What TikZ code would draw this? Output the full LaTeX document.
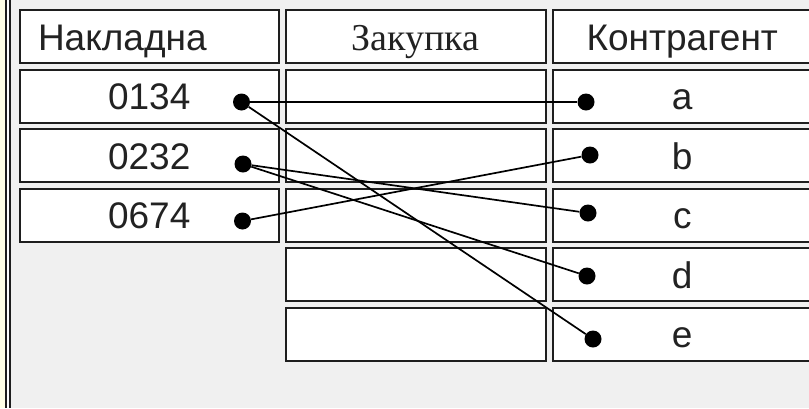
\documentclass[tikz,border=0pt]{standalone}
\usepackage{fontspec}
\setmainfont{Liberation Sans}
\newfontfamily\serifcell{Liberation Serif}
\usetikzlibrary{positioning}
\definecolor{panel}{HTML}{F0F0F0}
\definecolor{frameline}{HTML}{1E1E1E}
\definecolor{strip}{HTML}{FFFFE6}
\definecolor{ink}{HTML}{222222}

\begin{document}
\begin{tikzpicture}[
		x=1pt, y=-1pt,
		node distance=6.5pt and 7pt,
		cell/.style={draw=frameline, line width=2pt, fill=white, minimum width=259.5pt, minimum height=53pt, inner sep=0pt, outer sep=0pt, text height=27pt, text depth=0pt, text=ink, font=\fontsize{37}{40}\selectfont},
		headleft/.style={text width=222.5pt, align=left},
		serifhead/.style={font=\serifcell\fontsize{38}{40}\selectfont},
		dot/.style={circle, fill=black, inner sep=0pt, minimum size=17pt},
		link/.style={line width=1.7pt, black}
		]
	
		\useasboundingbox (0,0) rectangle (809,408);
		\clip (0,0) rectangle (809,408);
		\fill[panel] (0,0) rectangle (809,408);
		% window edge
		\fill[strip] (0,0) rectangle (5.3,408);
		\fill[white] (5.3,0) rectangle (11,408);
		\draw[frameline, line width=1.2pt] (5.9,0) -- (5.9,408);
		\draw[frameline, line width=2pt] (10,0) -- (10,408);
	
		% Накладна
		\node[cell, headleft, anchor=north west] at (19.5,10.3) (hnak) {Накладна};
		\node[cell, below = of hnak] (n0134) {0134};
		\node[cell, below = of n0134] (n0232) {0232};
		\node[cell, below = of n0232] (n0674) {0674};
		% Закупка
		\node[cell, serifhead, right = of hnak] (hzak) {Закупка};
		\node[cell, below = of hzak] (z1) {};
		\node[cell, below = of z1] (z2) {};
		\node[cell, below = of z2] (z3) {};
		\node[cell, below = of z3] (z4) {};
		\node[cell, below = of z4] (z5) {};
		% Контрагент
		\node[cell, right = of hzak] (hkon) {Контрагент};
		\node[cell, below = of hkon] (ka) {a};
		\node[cell, below = of ka] (kb) {b};
		\node[cell, below = of kb] (kc) {c};
		\node[cell, below = of kc] (kd) {d};
		\node[cell, below = of kd] (ke) {e};
	
		% points
		\node[dot] at (241.5,102) (p0134) {};
		\node[dot] at (243,164) (p0232) {};
		\node[dot] at (242.5,221) (p0674) {};
		\node[dot] at (586,102) (pa) {};
		\node[dot] at (590,155) (pb) {};
		\node[dot] at (588,213) (pc) {};
		\node[dot] at (587,276) (pd) {};
		\node[dot] at (593,339) (pe) {};
	
		\draw[link] (p0134) -- (pa);
		\draw[link] (p0134) -- (pe);
		\draw[link] (p0232) -- (pc);
		\draw[link] (p0232) -- (pd);
		\draw[link] (p0674) -- (pb);
	
	\end{tikzpicture}
\end{document}
